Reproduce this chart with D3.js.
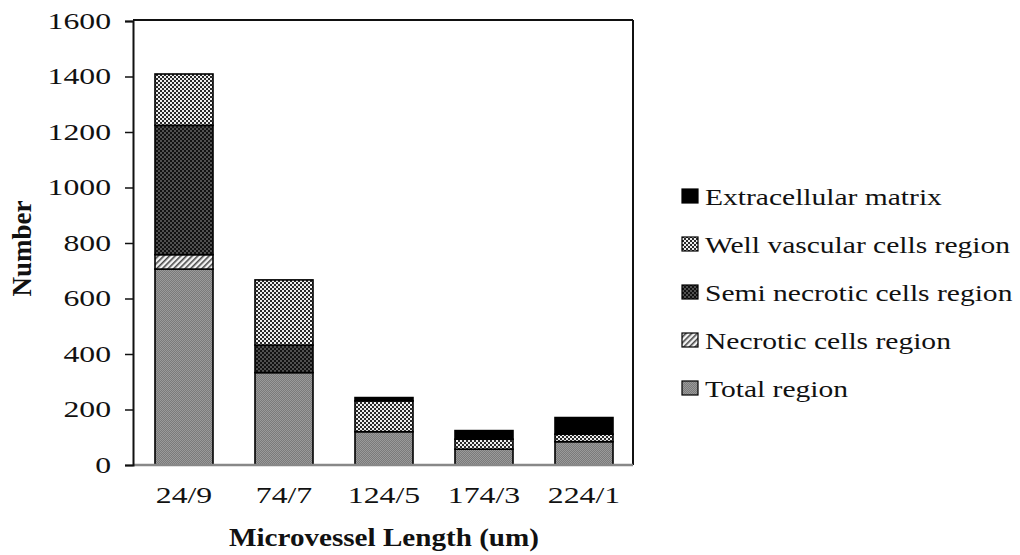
<!DOCTYPE html>
<html>
<head>
<meta charset="utf-8">
<script src="https://cdn.jsdelivr.net/npm/d3@7"></script>
<style>
  html, body { margin: 0; padding: 0; background: #fff; }
  svg { display: block; }
  text { font-family: "Liberation Serif", "Times New Roman", serif; fill: #111; }
</style>
</head>
<body>
<svg id="chart" width="1020" height="555"></svg>
<script>
// ---- data ----
const categories = ["24/9", "74/7", "124/5", "174/3", "224/1"];
const totalRegion = [706, 333, 120, 57, 84];
const necroticRegion = [52, 0, 0, 0, 0];
const semiNecroticRegion = [466, 99, 0, 0, 0];
const wellVascularRegion = [185, 235, 111, 36, 27];
const extracellularMatrix = [0, 0, 12, 31, 60];
const seriesNames = ["Total region", "Necrotic cells region", "Semi necrotic cells region", "Well vascular cells region", "Extracellular matrix"];
const yTicks = [0, 200, 400, 600, 800, 1000, 1200, 1400, 1600];
const yTitle = "Number";
const xTitle = "Microvessel Length (um)";

(function () {
const svg = d3.select("#chart");
const defs = svg.append("defs");

function checker(id, size, c1, c2) {
  const p = defs.append("pattern").attr("id", id).attr("patternUnits", "userSpaceOnUse")
    .attr("width", size * 2).attr("height", size * 2);
  p.append("rect").attr("width", size * 2).attr("height", size * 2).attr("fill", c1);
  p.append("rect").attr("width", size).attr("height", size).attr("fill", c2);
  p.append("rect").attr("x", size).attr("y", size).attr("width", size).attr("height", size).attr("fill", c2);
}
checker("pTotal", 1, "#7a7a7a", "#9a9a9a");
checker("pWell", 2, "#2a2a2a", "#eeeeee");
checker("pSemi", 2, "#111111", "#505050");
{
  const p = defs.append("pattern").attr("id", "pNecrotic").attr("patternUnits", "userSpaceOnUse")
    .attr("width", 4).attr("height", 4).attr("patternTransform", "rotate(-45)");
  p.append("rect").attr("width", 4).attr("height", 4).attr("fill", "#f4f4f4");
  p.append("rect").attr("width", 4).attr("height", 1.6).attr("fill", "#4a4a4a");
}
const fills = {
  "Total region": "url(#pTotal)",
  "Necrotic cells region": "url(#pNecrotic)",
  "Semi necrotic cells region": "url(#pSemi)",
  "Well vascular cells region": "url(#pWell)",
  "Extracellular matrix": "#000"
};

const seriesValues = [totalRegion, necroticRegion, semiNecroticRegion, wellVascularRegion, extracellularMatrix];
const table = categories.map((c, i) => {
  const row = { cat: c };
  seriesNames.forEach((s, j) => row[s] = seriesValues[j][i]);
  return row;
});

const pl = 133, pr = 633, pt = 20, pb = 465;
const x = d3.scaleBand().domain(categories).range([pl + 1, pr + 1]).paddingInner(0.42).paddingOuter(0.21);
const y = d3.scaleLinear().domain([0, 1600]).range([pb, pt + 1]);

const stack = d3.stack().keys(seriesNames)(table);

const g = svg.append("g");
stack.forEach(layer => {
  g.append("g").selectAll("rect").data(layer.filter(d => d[1] - d[0] > 0)).join("rect")
    .attr("x", d => x(d.data.cat))
    .attr("width", x.bandwidth())
    .attr("y", d => y(d[1]))
    .attr("height", d => y(d[0]) - y(d[1]))
    .attr("fill", fills[layer.key])
    .attr("stroke", "#000").attr("stroke-width", 1.6);
});

svg.append("line").attr("x1", pl).attr("x2", pr).attr("y1", pt).attr("y2", pt).attr("stroke", "#111").attr("stroke-width", 2);
svg.append("line").attr("x1", pr).attr("x2", pr).attr("y1", pt).attr("y2", pb).attr("stroke", "#111").attr("stroke-width", 2);

const xAxis = svg.append("g").attr("transform", `translate(0,${pb})`)
  .call(d3.axisBottom(x).tickSize(0).tickPadding(22));
xAxis.select(".domain").attr("stroke", "#888").attr("stroke-width", 2.5).attr("d", `M${pl},0H${pr}`);
xAxis.selectAll("text").attr("font-size", 23).attr("fill", "#111").attr("class", "stretchA")
  .style("font-family", '"Liberation Serif", serif');

const yAxis = svg.append("g").attr("transform", `translate(${pl},0)`)
  .call(d3.axisLeft(y).tickValues(yTicks).tickSize(8).tickPadding(14).tickFormat(d3.format("d")));
yAxis.select(".domain").attr("stroke", "#111").attr("stroke-width", 2);
yAxis.selectAll(".tick line").attr("stroke", "#111").attr("stroke-width", 1.5);
yAxis.selectAll("text").attr("font-size", 23).attr("fill", "#111").attr("class", "stretchA")
  .style("font-family", '"Liberation Serif", serif');

svg.append("text").attr("transform", `translate(31,${(pt + pb) / 2 + 6}) rotate(-90)`)
  .attr("text-anchor", "middle").attr("font-size", 27).attr("font-weight", "bold").text(yTitle);
svg.append("text").attr("x", 384).attr("y", 546).attr("text-anchor", "middle")
  .attr("font-size", 26).attr("font-weight", "bold").attr("class", "stretchC").text(xTitle);

const legendNames = seriesNames.slice().reverse();
const lg = svg.append("g");
legendNames.forEach((name, i) => {
  const by = 205 + i * 48;
  lg.append("rect").attr("x", 682).attr("y", by - 16).attr("width", 16).attr("height", 14)
    .attr("fill", fills[name]).attr("stroke", "#000").attr("stroke-width", 1.2);
  lg.append("text").attr("x", 705).attr("y", by).attr("font-size", 24).attr("class", "stretchB").text(name);
});

function stretch(sel, k) {
  sel.each(function () {
    const L = this.getComputedTextLength();
    d3.select(this).attr("textLength", L * k).attr("lengthAdjust", "spacingAndGlyphs");
  });
}
stretch(svg.selectAll("text.stretchA"), 1.38);
stretch(svg.selectAll("text.stretchB"), 1.23);
stretch(svg.selectAll("text.stretchC"), 1.12);
})();
</script>
</body>
</html>
